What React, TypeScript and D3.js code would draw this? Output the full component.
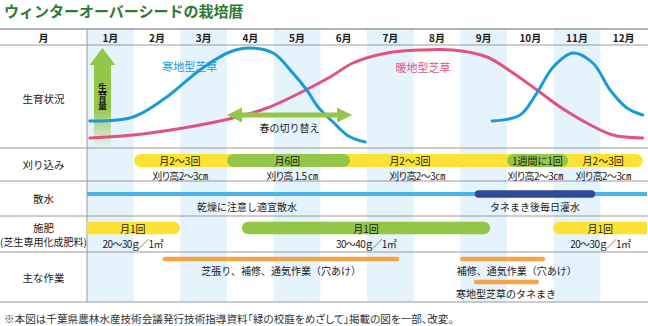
import React from 'react';
import * as d3 from 'd3';

const title = 'ウィンターオーバーシードの栽培暦';
const months = ['1月', '2月', '3月', '4月', '5月', '6月', '7月', '8月', '9月', '10月', '11月', '12月'];
const rowLabels = ['月', '生育状況', '刈り込み', '散水', '施肥', '主な作業'];
const footnote = '※本図は千葉県農林水産技術会議発行技術指導資料「緑の校庭をめざして」掲載の図を一部、改変。';

// growth curves: [month position (0 = start of Jan), growth amount 0..100]
const coldSeasonSpring: [number, number][] = [
  [0.06, 24], [0.99, 28], [1.71, 48], [2.42, 75], [3.06, 93], [3.49, 97], [3.99, 92],
  [4.41, 72], [4.71, 55], [4.95, 38], [5.25, 24], [5.6, 9], [5.96, 3],
];
const coldSeasonAutumn: [number, number][] = [
  [8.68, 24], [9.28, 30], [9.64, 52], [9.99, 78], [10.41, 92], [10.84, 82],
  [11.21, 55], [11.57, 37], [11.91, 30],
];
const warmSeason: [number, number][] = [
  [0.06, 7], [0.99, 10], [2.06, 17], [3.13, 27], [3.86, 37], [4.56, 52], [5.21, 68],
  [5.7, 82], [6.43, 92], [7.14, 95], [7.84, 95], [8.57, 88], [9.13, 72], [9.64, 55],
  [10.14, 38], [10.71, 22], [11.27, 10], [11.91, 7],
];
const coldLabel = { text: '寒地型芝草', m: 2.2, v: 79 };
const warmLabel = { text: '暖地型芝草', m: 7.2, v: 78 };
const growthArrowLabel = '生育量';
const switchArrow = { from: 3.0, to: 5.68, text: '春の切り替え' };

// mowing
const mowBars = [
  { start: 1.01, end: 11.91, kind: 'yellow' },
  { start: 3.0, end: 5.64, kind: 'green' },
  { start: 9.0, end: 10.31, kind: 'green' },
];
const mowLabels = [
  { m: 1.99, text: '月2～3回' },
  { m: 4.29, text: '月6回' },
  { m: 6.92, text: '月2～3回' },
  { m: 9.65, text: '1週間に1回' },
  { m: 11.06, text: '月2～3回' },
];
const mowSubLabels = [
  { m: 1.99, text: '刈り高2～3㎝' },
  { m: 4.39, text: '刈り高 1.5 ㎝' },
  { m: 7.07, text: '刈り高2～3㎝' },
  { m: 9.6, text: '刈り高2～3㎝' },
  { m: 11.06, text: '刈り高2～3㎝' },
];

// watering
const waterLine = { start: 0, end: 12 };
const waterBar = { start: 8.31, end: 10.89 };
const waterLabels = [
  { m: 3.43, text: '乾燥に注意し適宜散水' },
  { m: 9.6, text: 'タネまき後毎日灌水' },
];

// fertilizer
const fertBars = [
  { start: 0, end: 1.99, kind: 'yellow', openLeft: true, openRight: false, label: '月1回', sub: '20～30ｇ／1㎡', m: 0.98 },
  { start: 3.32, end: 8.64, kind: 'green', openLeft: false, openRight: false, label: '月1回', sub: '30～40ｇ／1㎡', m: 5.98 },
  { start: 9.99, end: 12, kind: 'yellow', openLeft: false, openRight: true, label: '月1回', sub: '20～30ｇ／1㎡', m: 11.0 },
];

// main work
const workLines = [
  { start: 1.67, end: 6.64, level: 0, text: '芝張り、補修、通気作業（穴あけ）', m: 4.16 },
  { start: 8.04, end: 9.77, level: 0, text: '補修、通気作業（穴あけ）', m: 9.21 },
  { start: 8.34, end: 9.64, level: 1, text: '寒地型芝草のタネまき', m: 8.98 },
];

const W = 648;
const H = 326;
const FONT = '"Noto Sans CJK JP", "Noto Sans", sans-serif';
const C = {
  title: '#2b7b30',
  shade: '#e5f3fc',
  grid: '#9a9a9a',
  blue: '#1b9ad8',
  pink: '#e2527d',
  green: '#94c64a',
  yellow: '#fde236',
  navy: '#2f4a98',
  lightBlue: '#48b6ea',
  orange: '#f5a547',
  text: '#1a1a1a',
};

const X0 = 87;
const X1 = 647;
const rows = { top: 29, header: 45, growth: 148, mow: 181, water: 216, fert: 252, work: 302 };

function pill(x0: number, x1: number, yc: number, h: number, openL = false, openR = false) {
  const r = h / 2;
  const t = yc - r;
  const b = yc + r;
  let p = '';
  if (openL) p += `M${x0},${t}`;
  else p += `M${x0 + r},${t}`;
  if (openR) p += `L${x1},${t}L${x1},${b}`;
  else p += `L${x1 - r},${t}A${r},${r} 0 0 1 ${x1 - r},${b}`;
  if (openL) p += `L${x0},${b}Z`;
  else p += `L${x0 + r},${b}A${r},${r} 0 0 1 ${x0 + r},${t}Z`;
  return p;
}

const palt = { fontFeatureSettings: '"palt"' } as React.CSSProperties;

export default function App() {
  const x = d3.scaleLinear().domain([0, 12]).range([X0, X1]);
  const y = d3.scaleLinear().domain([0, 100]).range([145, 45]);
  const line = d3
    .line<[number, number]>()
    .x((d) => x(d[0]))
    .y((d) => y(d[1]))
    .curve(d3.curveCatmullRom.alpha(0.5));

  const colW = x(1) - x(0);
  const leftCx = X0 / 2;
  const barColor = (k: string) => (k === 'yellow' ? C.yellow : C.green);

  // double arrow
  const ax0 = x(switchArrow.from);
  const ax1 = x(switchArrow.to);
  const ay = 115;
  const hl = 15;
  const hh = 7.5;
  const sh = 2.5;
  const dbl = `M${ax0},${ay}L${ax0 + hl},${ay - hh}L${ax0 + hl},${ay - sh}L${ax1 - hl},${ay - sh}L${ax1 - hl},${ay - hh}L${ax1},${ay}L${ax1 - hl},${ay + hh}L${ax1 - hl},${ay + sh}L${ax0 + hl},${ay + sh}L${ax0 + hl},${ay + hh}Z`;

  // up arrow
  const ux = 102.5;
  const up = `M${ux},48L${ux + 13},65L${ux + 8.5},65L${ux + 8.5},148L${ux - 8.5},148L${ux - 8.5},65L${ux - 13},65Z`;

  const lineRows = [rows.top, rows.header, rows.growth, rows.mow, rows.water, rows.fert, rows.work];
  const labelY = [
    (rows.top + rows.header) / 2,
    98,
    (rows.growth + rows.mow) / 2,
    (rows.mow + rows.water) / 2,
    0,
    277,
  ];

  return (
    <svg
      width={W}
      height={H}
      viewBox={`0 0 ${W} ${H}`}
      style={{ position: 'absolute', left: 0, top: 0, background: '#fff', fontFamily: FONT }}
    >
      <defs>
        <linearGradient id="upg" x1="0" y1="0" x2="0" y2="1">
          <stop offset="0" stopColor={C.green} stopOpacity={1} />
          <stop offset="0.6" stopColor={C.green} stopOpacity={1} />
          <stop offset="1" stopColor={C.green} stopOpacity={0} />
        </linearGradient>
      </defs>
      <rect x={0} y={0} width={W} height={H} fill="#fff" />
      <text x={4} y={17} fontSize={15} fontWeight={700} fill={C.title}>
        {title}
      </text>

      {months.map((m, i) =>
        i % 2 === 0 ? (
          <rect key={m} x={x(i)} y={rows.top} width={colW} height={rows.work - rows.top} fill={C.shade} />
        ) : null,
      )}

      {lineRows.map((ly, i) => (
        <line key={i} x1={0} x2={W} y1={ly} y2={ly} stroke={i === 0 ? '#666' : C.grid} strokeWidth={1} />
      ))}
      <line x1={X0} x2={X0} y1={rows.top} y2={rows.work} stroke={C.grid} strokeWidth={1} />

      {months.map((m, i) => (
        <text key={m} x={x(i + 0.5)} y={37} fontSize={10} fontWeight={700} textAnchor="middle" dominantBaseline="central" fill={C.text}>
          {m}
        </text>
      ))}

      {rowLabels.map((l, i) =>
        i === 4 ? (
          <g key={l}>
            <text x={leftCx} y={227} fontSize={10.5} textAnchor="middle" dominantBaseline="central" fill={C.text}>
              {l}
            </text>
            <text x={leftCx} y={241} fontSize={10} textAnchor="middle" dominantBaseline="central" fill={C.text}>
              (芝生専用化成肥料)
            </text>
          </g>
        ) : (
          <text key={l} x={leftCx} y={labelY[i]} fontSize={i === 0 ? 10 : 10.5} fontWeight={i === 0 ? 700 : 400} textAnchor="middle" dominantBaseline="central" fill={C.text}>
            {l}
          </text>
        ),
      )}

      {/* growth */}
      <path d={up} fill="url(#upg)" />
      <text
        x={ux}
        y={97}
        fontSize={9}
        fontWeight={700}
        textAnchor="middle"
        fill={C.text}
        style={{ writingMode: 'vertical-rl' } as React.CSSProperties}
      >
        {growthArrowLabel}
      </text>
      <path d={line(warmSeason) || ''} fill="none" stroke={C.pink} strokeWidth={3} strokeLinecap="round" />
      <path d={line(coldSeasonSpring) || ''} fill="none" stroke={C.blue} strokeWidth={3} strokeLinecap="round" />
      <path d={line(coldSeasonAutumn) || ''} fill="none" stroke={C.blue} strokeWidth={3} strokeLinecap="round" />
      <text x={x(coldLabel.m)} y={y(coldLabel.v)} fontSize={11} textAnchor="middle" dominantBaseline="central" fill={C.blue}>
        {coldLabel.text}
      </text>
      <text x={x(warmLabel.m)} y={y(warmLabel.v)} fontSize={11} textAnchor="middle" dominantBaseline="central" fill={C.pink}>
        {warmLabel.text}
      </text>
      <path d={dbl} fill={C.green} />
      <text x={(ax0 + ax1) / 2} y={127} fontSize={10} textAnchor="middle" dominantBaseline="central" fill={C.text}>
        {switchArrow.text}
      </text>

      {/* mowing */}
      {mowBars.map((b, i) => (
        <path key={i} d={pill(x(b.start), x(b.end), 160.5, 13)} fill={barColor(b.kind)} />
      ))}
      {mowLabels.map((l, i) => (
        <text key={i} x={x(l.m)} y={160.5} fontSize={10} textAnchor="middle" dominantBaseline="central" fill={C.text} style={palt}>
          {l.text}
        </text>
      ))}
      {mowSubLabels.map((l, i) => (
        <text key={i} x={x(l.m)} y={175} fontSize={10} letterSpacing={-0.6} textAnchor="middle" dominantBaseline="central" fill={C.text} style={palt}>
          {l.text}
        </text>
      ))}

      {/* watering */}
      <rect x={x(waterLine.start)} y={192} width={x(waterLine.end) - x(waterLine.start)} height={4} fill={C.lightBlue} />
      <path d={pill(x(waterBar.start), x(waterBar.end), 194, 7.5)} fill={C.navy} />
      {waterLabels.map((l, i) => (
        <text key={i} x={x(l.m)} y={206.5} fontSize={10} textAnchor="middle" dominantBaseline="central" fill={C.text}>
          {l.text}
        </text>
      ))}

      {/* fertilizer */}
      {fertBars.map((b, i) => (
        <g key={i}>
          <path d={pill(x(b.start), x(b.end), 228, 12.5, b.openLeft, b.openRight)} fill={barColor(b.kind)} />
          <text x={x(b.m)} y={228} fontSize={10} textAnchor="middle" dominantBaseline="central" fill={C.text}>
            {b.label}
          </text>
          <text x={x(b.m)} y={243} fontSize={10} letterSpacing={-0.6} textAnchor="middle" dominantBaseline="central" fill={C.text} style={palt}>
            {b.sub}
          </text>
        </g>
      ))}

      {/* work */}
      {workLines.map((w, i) => {
        const ly = w.level === 0 ? 259 : 282;
        return (
          <g key={i}>
            <line x1={x(w.start)} x2={x(w.end)} y1={ly} y2={ly} stroke={C.orange} strokeWidth={4.5} strokeLinecap="round" />
            <text x={x(w.m)} y={ly + 11.5} fontSize={10} textAnchor="middle" dominantBaseline="central" fill={C.text}>
              {w.text}
            </text>
          </g>
        );
      })}

      <text x={4} y={318} fontSize={10.6} dominantBaseline="central" fill="#333" style={palt}>
        {footnote}
      </text>
    </svg>
  );
}
